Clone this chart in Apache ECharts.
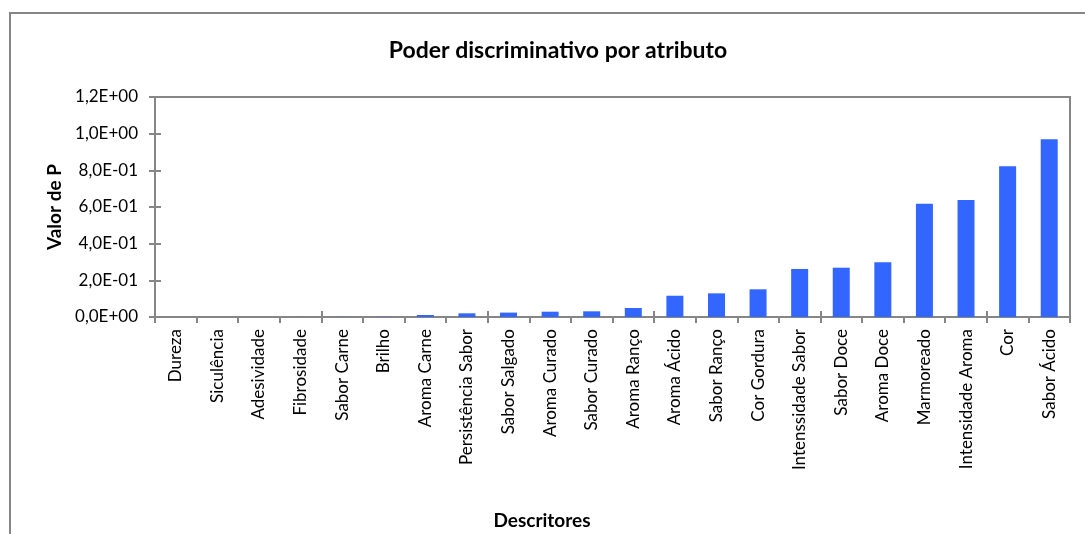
<!DOCTYPE html>
<html>
<head>
<meta charset="utf-8">
<title>Poder discriminativo por atributo</title>
<script src="https://cdn.jsdelivr.net/npm/echarts@6/dist/echarts.min.js"></script>
<style>
  html, body { margin: 0; padding: 0; background: #ffffff; }
  #chart { width: 1085px; height: 534px; }
</style>
</head>
<body>
<div id="chart"></div>
<script>
// Descriptors, ordered by increasing P value
var descritores = [
  'Dureza', 'Siculência', 'Adesividade', 'Fibrosidade', 'Sabor Carne', 'Brilho',
  'Aroma Carne', 'Persistência Sabor', 'Sabor Salgado', 'Aroma Curado', 'Sabor Curado',
  'Aroma Ranço', 'Aroma Ácido', 'Sabor Ranço', 'Cor Gordura', 'Intenssidade Sabor',
  'Sabor Doce', 'Aroma Doce', 'Marmoreado', 'Intensidade Aroma', 'Cor', 'Sabor Ácido'
];

// P value of each descriptor
var valorP = [
  0.00001, 0.00003, 0.0001, 0.0003, 0.0006, 0.0012,
  0.011, 0.020, 0.024, 0.029, 0.031,
  0.049, 0.116, 0.129, 0.151, 0.262,
  0.269, 0.298, 0.618, 0.638, 0.822, 0.969
];

// Value axis range
var eixoMin = 0;
var eixoMax = 1.2;
var eixoPasso = 0.2;

// Scientific notation with a decimal comma, e.g. 8,0E-01
function notacaoCientifica(v) {
  if (Math.abs(v) < 1e-12) return '0,0E+00';
  var s = v.toExponential(1);
  var partes = s.split('e');
  var mant = partes[0].replace('.', ',');
  var exp = parseInt(partes[1], 10);
  var sinal = exp < 0 ? '-' : '+';
  var e = Math.abs(exp);
  return mant + 'E' + sinal + (e < 10 ? '0' + e : String(e));
}

var cinza = '#868686';
var fonte = 'Lato, "Open Sans", sans-serif';

var chart = echarts.init(document.getElementById('chart'));
chart.setOption({
  animation: false,
  backgroundColor: '#ffffff',
  textStyle: { fontFamily: fonte },
  graphic: [
    {
      type: 'rect',
      shape: { x: 10, y: 13, width: 1200, height: 700 },
      style: { fill: 'none', stroke: cinza, lineWidth: 2 },
      silent: true
    },
    {
      type: 'text',
      x: 558,
      y: 51,
      style: {
        text: 'Poder discriminativo por atributo',
        font: 'bold 23px ' + fonte,
        fill: '#000000',
        align: 'center',
        verticalAlign: 'middle'
      }
    },
    {
      type: 'text',
      x: 542,
      y: 521,
      style: {
        text: 'Descritores',
        font: 'bold 19px ' + fonte,
        fill: '#000000',
        align: 'center',
        verticalAlign: 'middle'
      }
    }
  ],
  grid: {
    left: 155,
    top: 97,
    right: 15,
    bottom: 217,
    show: true,
    borderColor: cinza,
    borderWidth: 2,
    containLabel: false
  },
  xAxis: [
    {
      type: 'category',
      data: descritores,
      position: 'bottom',
      boundaryGap: true,
      axisLine: { show: true, lineStyle: { color: cinza, width: 2 } },
      axisTick: { show: true, alignWithLabel: false, length: 6, lineStyle: { color: cinza, width: 2 } },
      axisLabel: {
        interval: 0,
        rotate: 90,
        margin: 12,
        color: '#000000',
        fontFamily: fonte,
        fontSize: 17
      }
    },
    {
      type: 'category',
      data: descritores,
      position: 'bottom',
      boundaryGap: true,
      axisLine: { show: false },
      axisTick: { show: true, inside: true, length: 6, lineStyle: { color: cinza, width: 2 } },
      axisLabel: { show: false }
    }
  ],
  yAxis: [
    {
      type: 'value',
      min: eixoMin,
      max: eixoMax,
      interval: eixoPasso,
      name: 'Valor de P',
      nameLocation: 'middle',
      nameGap: 90,
      nameRotate: 90,
      nameTextStyle: { fontFamily: fonte, fontSize: 19, fontWeight: 'bold', color: '#000000' },
      axisLine: { show: true, lineStyle: { color: cinza, width: 2 } },
      axisTick: { show: true, length: 6, lineStyle: { color: cinza, width: 2 } },
      splitLine: { show: false },
      axisLabel: {
        margin: 17,
        color: '#000000',
        fontFamily: fonte,
        fontSize: 17,
        formatter: notacaoCientifica
      }
    },
    {
      type: 'value',
      min: eixoMin,
      max: eixoMax,
      interval: eixoPasso,
      position: 'left',
      axisLine: { show: false },
      axisTick: { show: true, inside: true, length: 6, lineStyle: { color: cinza, width: 2 } },
      splitLine: { show: false },
      axisLabel: { show: false }
    }
  ],
  series: [
    {
      type: 'bar',
      xAxisIndex: 0,
      yAxisIndex: 0,
      data: valorP,
      barWidth: 17,
      itemStyle: { color: '#3366FF' }
    }
  ]
});
</script>
</body>
</html>
